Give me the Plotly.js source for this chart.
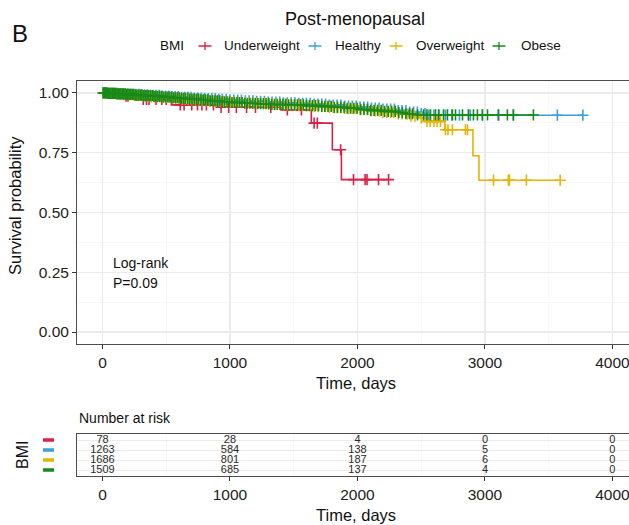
<!DOCTYPE html>
<html><head><meta charset="utf-8">
<script src="https://cdn.plot.ly/plotly-3.0.1.min.js"></script>
<style>html,body{margin:0;padding:0;background:#fff;} #chart{width:629px;height:525px;}</style>
</head><body><div id="chart"></div>
<script>
// ---- data ----
const groups = ['Underweight', 'Healthy', 'Overweight', 'Obese'];
const colors = ['#DC1F47', '#3A9FDB', '#E6B400', '#178A17'];

// event times (days) and survival after each event; censor times
const underT = [120, 290, 540, 900, 1400, 1638, 1803, 1874];
const underS = [0.987, 0.973, 0.950, 0.940, 0.929, 0.874, 0.7625, 0.6375];
const underC = [185, 200, 320, 345, 365, 420, 465, 500, 610, 640, 700, 745, 780, 815, 870, 930, 990, 1050, 1130, 1200, 1320, 1450, 1560, 1660, 1685, 1868, 1969, 2060, 2075, 2165, 2244];

const healthyT = [50, 130, 210, 290, 370, 450, 530, 620, 710, 800, 900, 1000, 1100, 1200, 1300, 1420, 1540, 1660, 1780, 1900, 2000, 2100, 2200, 2300, 2400, 2480, 2560];
const healthyS = [0.998, 0.996, 0.994, 0.992, 0.990, 0.987, 0.985, 0.982, 0.979, 0.976, 0.973, 0.970, 0.967, 0.965, 0.962, 0.959, 0.956, 0.953, 0.949, 0.945, 0.941, 0.937, 0.932, 0.926, 0.920, 0.914, 0.907];
const healthyC = [8, 20, 35, 50, 66, 85, 102, 120, 140, 160, 180, 200, 220, 240, 262, 285, 307, 330, 352, 375, 398, 420, 445, 470, 495, 520, 545, 570, 595, 620, 645, 670, 695, 720, 748, 775, 802, 830, 858, 885, 912, 940, 970, 1000, 1030, 1060, 1090, 1120, 1150, 1180, 1210, 1240, 1270, 1300, 1330, 1360, 1390, 1420, 1450, 1480, 1510, 1540, 1570, 1600, 1630, 1660, 1690, 1720, 1750, 1780, 1810, 1840, 1870, 1900, 1930, 1960, 1990, 2020, 2050, 2080, 2110, 2140, 2170, 2200, 2230, 2260, 2290, 2320, 2350, 2380, 2410, 2440, 2470, 2500, 2530, 2560, 2600, 2640, 2690, 2740, 2800, 2871, 2886, 2980, 3106, 3223, 3568, 3768];

const overT = [30, 100, 170, 240, 310, 380, 460, 540, 620, 700, 780, 870, 960, 1060, 1160, 1280, 1400, 1530, 1660, 1780, 1900, 2000, 2100, 2200, 2300, 2400, 2480, 2530, 2685, 2906, 2953];
const overS = [0.998, 0.996, 0.993, 0.990, 0.987, 0.984, 0.981, 0.977, 0.974, 0.971, 0.968, 0.965, 0.962, 0.959, 0.956, 0.953, 0.950, 0.947, 0.943, 0.939, 0.935, 0.930, 0.925, 0.919, 0.912, 0.903, 0.896, 0.881, 0.846, 0.7375, 0.635];
const overC = [6, 15, 30, 45, 60, 75, 92, 110, 130, 150, 170, 190, 210, 230, 250, 270, 292, 315, 337, 360, 382, 405, 428, 450, 475, 500, 525, 550, 575, 600, 625, 650, 675, 700, 728, 755, 782, 810, 838, 865, 892, 920, 948, 975, 1002, 1030, 1060, 1090, 1120, 1150, 1180, 1210, 1240, 1270, 1300, 1330, 1360, 1390, 1420, 1450, 1480, 1510, 1540, 1570, 1600, 1630, 1660, 1690, 1720, 1750, 1780, 1810, 1840, 1870, 1900, 1930, 1960, 1990, 2020, 2050, 2080, 2110, 2140, 2170, 2200, 2230, 2260, 2284, 2320, 2350, 2390, 2420, 2450, 2500, 2545, 2570, 2600, 2625, 2651, 2690, 2710, 2745, 2847, 2863, 3067, 3184, 3192, 3325, 3590];

const obeseT = [40, 110, 180, 250, 320, 400, 470, 540, 610, 680, 760, 840, 920, 1000, 1100, 1200, 1320, 1450, 1580, 1700, 1800, 1900, 2000, 2100, 2200, 2300, 2380, 2440];
const obeseS = [0.998, 0.996, 0.994, 0.991, 0.989, 0.986, 0.983, 0.980, 0.977, 0.974, 0.971, 0.967, 0.963, 0.960, 0.957, 0.955, 0.952, 0.950, 0.947, 0.944, 0.940, 0.936, 0.931, 0.927, 0.923, 0.918, 0.913, 0.908];
const obeseC = [5, 14, 22, 31, 40, 48, 57, 66, 76, 85, 95, 104, 114, 124, 135, 145, 156, 166, 177, 188, 199, 211, 222, 234, 246, 258, 270, 283, 296, 309, 322, 335, 349, 362, 376, 390, 404, 418, 432, 447, 462, 477, 492, 507, 522, 538, 554, 570, 586, 602, 618, 635, 651, 668, 685, 702, 719, 737, 754, 772, 790, 808, 826, 845, 863, 882, 900, 919, 938, 957, 977, 996, 1016, 1035, 1055, 1075, 1095, 1116, 1136, 1157, 1177, 1198, 1219, 1240, 1262, 1283, 1305, 1327, 1349, 1371, 1393, 1415, 1438, 1460, 1483, 1506, 1529, 1553, 1576, 1600, 1623, 1647, 1671, 1695, 1720, 1744, 1769, 1794, 1819, 1844, 1869, 1895, 1920, 1946, 1972, 1998, 2025, 2051, 2078, 2104, 2131, 2158, 2186, 2213, 2241, 2268, 2296, 2324, 2352, 2380, 2408, 2432, 2471, 2518, 2545, 2573, 2612, 2636, 2675, 2706, 2745, 2769, 2824, 2871, 2910, 2941, 2980, 3020, 3106, 3176, 3223, 3380];

const riskTimes = [0, 1000, 2000, 3000, 4000];
const riskUnder = [78, 28, 4, 0, 0];
const riskHealthy = [1263, 584, 138, 5, 0];
const riskOver = [1686, 801, 187, 6, 0];
const riskObese = [1509, 685, 137, 4, 0];

const xTicks = [0, 1000, 2000, 3000, 4000];
const yTicks = [0, 0.25, 0.5, 0.75, 1];
const yTickText = ['0.00', '0.25', '0.50', '0.75', '1.00'];

// ---- build traces ----
const series = [
  {T: underT, S: underS, C: underC},
  {T: healthyT, S: healthyS, C: healthyC},
  {T: overT, S: overS, C: overC},
  {T: obeseT, S: obeseS, C: obeseC}
];
function survAt(T, S, t) { let s = 1; for (let i = 0; i < T.length; i++) { if (T[i] <= t) s = S[i]; } return s; }

const lineTraces = [], markTraces = [];
series.forEach((g, k) => {
  const end = Math.max(g.T[g.T.length - 1], g.C[g.C.length - 1]);
  lineTraces.push({
    type: 'scatter', mode: 'lines', xaxis: 'x', yaxis: 'y',
    x: [0].concat(g.T, [end]), y: [1].concat(g.S, [g.S[g.S.length - 1]]),
    line: {shape: 'hv', color: colors[k], width: 1.6}, hoverinfo: 'skip', name: groups[k]
  });
  markTraces.push({
    type: 'scatter', mode: 'markers', xaxis: 'x', yaxis: 'y',
    x: g.C, y: g.C.map(t => survAt(g.T, g.S, t)),
    marker: {symbol: 'cross-thin', size: 8, line: {color: colors[k], width: 1.6}, color: colors[k]},
    hoverinfo: 'skip', name: groups[k]
  });
});
const risks = [riskUnder, riskHealthy, riskOver, riskObese];
const riskTraces = risks.map((r, k) => ({
  type: 'scatter', mode: 'text', xaxis: 'x2', yaxis: 'y2',
  x: riskTimes, y: riskTimes.map(() => k), text: r.map(String),
  textfont: {size: 11, color: '#2a2a2a', family: 'Liberation Sans, Arial, sans-serif'},
  textposition: 'middle center', hoverinfo: 'skip', cliponaxis: false
}));

// ---- layout helpers (pixel -> paper) ----
const PL = 77, PW = 552, PB = 476, PH = 395;
const px = v => (v - PL) / PW;
const py = v => (PB - v) / PH;

const grid = '#EBEBEB', minorGrid = '#F5F5F5', lineCol = '#4d4d4d';
const baseX = {
  range: [-200, 4130], tickvals: xTicks, ticks: 'outside', ticklen: 4, tickwidth: 1, tickcolor: '#333',
  showline: true, linecolor: lineCol, linewidth: 1, mirror: true, zeroline: false,
  showgrid: true, gridcolor: grid, gridwidth: 1.2,
  minor: {dtick: 500, tick0: 0, showgrid: true, gridcolor: minorGrid, gridwidth: 0.7},
  tickfont: {size: 15.5, color: '#222'}, automargin: false, fixedrange: true,
  ticklabeloverflow: 'allow'
};

const legendY = py(46);
const keyCenters = [205, 315, 396, 499];
const legendTextX = [222, 333, 414, 519];
const shapes = [];
keyCenters.forEach((c, k) => {
  shapes.push({type: 'line', xref: 'paper', yref: 'paper', x0: px(c - 6.5), x1: px(c + 6.5), y0: legendY, y1: legendY, line: {color: colors[k], width: 1.5}});
  shapes.push({type: 'line', xref: 'paper', yref: 'paper', x0: px(c), x1: px(c), y0: py(42), y1: py(50), line: {color: colors[k], width: 1.3}});
});
groups.forEach((g, k) => {
  shapes.push({type: 'line', xref: 'paper', yref: 'y2', x0: px(43), x1: px(54), y0: k, y1: k, line: {color: colors[k], width: 3.5}});
});

const F = 'Liberation Sans, Arial, sans-serif';
const annotations = [
  {text: 'B', x: px(20), y: py(33), xref: 'paper', yref: 'paper', showarrow: false, font: {size: 24, color: '#111'}, xanchor: 'center', yanchor: 'middle'},
  {text: 'Post-menopausal', x: px(355), y: py(19), xref: 'paper', yref: 'paper', showarrow: false, font: {size: 18, color: '#111'}, xanchor: 'center', yanchor: 'middle'},
  {text: 'BMI', x: px(158), y: legendY, xref: 'paper', yref: 'paper', showarrow: false, font: {size: 13.5, color: '#111'}, xanchor: 'left', yanchor: 'middle'},
  {text: 'Survival probability', x: px(15), y: py(206), xref: 'paper', yref: 'paper', showarrow: false, textangle: -90, font: {size: 16.5, color: '#111'}, xanchor: 'center', yanchor: 'middle'},
  {text: 'Time, days', x: px(356), y: py(383), xref: 'paper', yref: 'paper', showarrow: false, font: {size: 16.5, color: '#111'}, xanchor: 'center', yanchor: 'middle'},
  {text: 'Time, days', x: px(356), y: py(515), xref: 'paper', yref: 'paper', showarrow: false, font: {size: 16.5, color: '#111'}, xanchor: 'center', yanchor: 'middle'},
  {text: 'Number at risk', x: px(77), y: py(418), xref: 'paper', yref: 'paper', showarrow: false, font: {size: 14, color: '#111'}, xanchor: 'left', yanchor: 'middle'},
  {text: 'BMI', x: px(22), y: py(455), xref: 'paper', yref: 'paper', showarrow: false, textangle: -90, font: {size: 16, color: '#111'}, xanchor: 'center', yanchor: 'middle'},
  {text: 'Log-rank', x: px(111), y: 0.2875, xref: 'paper', yref: 'y', showarrow: false, font: {size: 14, color: '#111'}, xanchor: 'left', yanchor: 'middle'},
  {text: 'P=0.09', x: px(111), y: 0.204, xref: 'paper', yref: 'y', showarrow: false, font: {size: 14, color: '#111'}, xanchor: 'left', yanchor: 'middle'}
];
groups.forEach((g, k) => {
  annotations.push({text: g, x: px(legendTextX[k]), y: legendY, xref: 'paper', yref: 'paper', showarrow: false, font: {size: 13.5, color: '#111'}, xanchor: 'left', yanchor: 'middle'});
});

const layout = {
  width: 629, height: 525,
  margin: {l: 77, r: 0, t: 81, b: 49, pad: 0},
  paper_bgcolor: '#fff', plot_bgcolor: '#fff', showlegend: false,
  font: {family: F, color: '#222'},
  xaxis: Object.assign({}, baseX, {domain: [0, 1], anchor: 'y'}),
  yaxis: {
    domain: [py(344), 1], anchor: 'x', range: [-0.05, 1.05], tickvals: yTicks, ticktext: yTickText,
    ticks: 'outside', ticklen: 4, tickwidth: 1, tickcolor: '#333',
    showline: true, linecolor: lineCol, linewidth: 1, mirror: false, zeroline: false,
    showgrid: true, gridcolor: grid, gridwidth: 1.2,
    minor: {dtick: 0.125, tick0: 0, showgrid: true, gridcolor: minorGrid, gridwidth: 0.7},
    tickfont: {size: 15.5, color: '#222'}, automargin: false, fixedrange: true
  },
  xaxis2: Object.assign({}, baseX, {domain: [0, 1], anchor: 'y2'}),
  yaxis2: {
    domain: [0, py(434)], anchor: 'x2', range: [3.6, -0.6], tickvals: [0, 1, 2, 3], showticklabels: false, ticks: '',
    showline: true, linecolor: lineCol, linewidth: 1, mirror: false, zeroline: false,
    showgrid: true, gridcolor: grid, gridwidth: 1, automargin: false, fixedrange: true
  },
  shapes: shapes,
  annotations: annotations
};

Plotly.newPlot('chart', lineTraces.concat(markTraces, riskTraces), layout, {displayModeBar: false, staticPlot: true});
</script>
</body></html>
